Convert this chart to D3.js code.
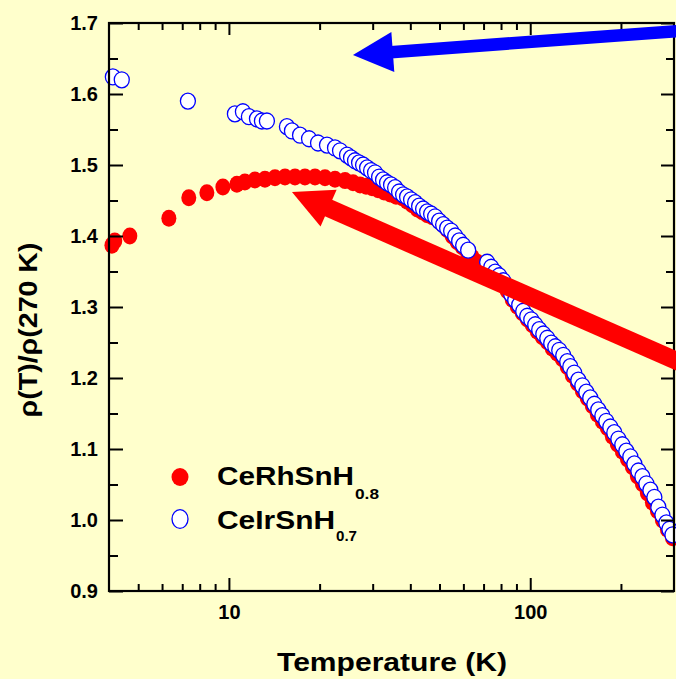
<!DOCTYPE html>
<html>
<head>
<meta charset="utf-8">
<script src="https://cdn.jsdelivr.net/npm/d3@7"></script>
<style>
  body { margin: 0; background: #FFFFCC; }
  svg { display: block; }
  text { font-family: Arial, "Liberation Sans", sans-serif; font-weight: bold; fill: #000; }
</style>
</head>
<body>
<svg id="chart" width="676" height="679"></svg>
<script>
// Normalised resistivity rho(T)/rho(270 K) of the two hydrides
const tempRh = [4.09,4.18,4.69,6.32,7.36,8.45,9.55,10.63,11.30,12.20,13.17,14.22,15.35,16.57,17.88,19.31,20.84,22.50,
  24.29,25.82,27.25,28.52,29.86,31.26,32.73,34.27,35.88,37.56,39.03,40.55,42.14,43.78,45.48,47.26,49.09,51.01,53.00,55.07,
  57.21,59.44,61.76,64.17,66.67,69.27,71.95,74.76,77.68,80.72,83.86,87.14,90.54,94.07,97.72,101.5,105.5,109.6,113.9,118.3,
  122.9,127.7,132.7,137.9,143.3,148.9,154.6,160.7,167.0,173.5,180.2,187.3,194.5,202.1,210.1,218.2,226.7,235.6,244.7,254.3,
  264.2,274.5,285.2,296.4];
const rhoRh = [1.387,1.393,1.400,1.425,1.454,1.461,1.469,1.473,1.476,1.479,1.480,1.482,1.483,1.483,1.483,1.483,1.482,1.480,
  1.478,1.475,1.472,1.470,1.468,1.465,1.462,1.459,1.456,1.454,1.449,1.444,1.438,1.434,1.430,1.427,1.424,1.417,1.409,1.400,
  1.392,1.385,1.378,1.370,1.363,1.358,1.352,1.347,1.341,1.332,1.323,1.311,1.301,1.292,1.283,1.275,1.266,1.258,1.251,1.242,
  1.235,1.227,1.216,1.204,1.193,1.182,1.172,1.161,1.149,1.139,1.130,1.118,1.107,1.097,1.086,1.075,1.062,1.051,1.038,1.025,
  1.013,1.000,0.987,0.975];

const tempIr = [4.12,4.41,7.31,10.47,11.13,11.65,12.39,12.87,13.37,15.58,16.19,17.22,18.45,19.76,21.16,22.50,23.38,24.66,
  25.43,26.22,27.04,27.88,28.75,29.64,30.55,31.51,32.48,33.49,34.53,35.61,36.71,37.86,39.03,40.24,41.49,42.78,44.11,45.48,
  46.90,48.35,49.85,51.40,53.00,54.65,56.35,58.10,59.90,62.23,71.95,74.19,76.49,78.89,81.34,83.86,86.48,89.17,91.94,94.78,
  97.72,100.8,103.9,107.1,110.5,113.9,117.4,121.1,124.8,128.7,132.7,135.8,140.0,144.4,148.9,153.5,158.2,163.2,168.2,173.5,
  178.8,184.4,190.1,196.1,202.1,208.4,214.9,221.6,228.5,235.6,242.9,250.5,258.2,266.2,274.5,283.0,289.6,296.4];
const rhoIr = [1.624,1.620,1.590,1.572,1.575,1.568,1.565,1.562,1.562,1.554,1.548,1.542,1.537,1.531,1.528,1.524,1.520,1.514,
  1.510,1.506,1.503,1.500,1.496,1.492,1.489,1.483,1.479,1.475,1.472,1.468,1.462,1.458,1.455,1.451,1.447,1.442,1.438,1.434,
  1.431,1.427,1.421,1.416,1.411,1.407,1.400,1.393,1.387,1.380,1.363,1.356,1.349,1.344,1.337,1.328,1.318,1.310,1.303,1.294,
  1.287,1.282,1.275,1.268,1.262,1.256,1.249,1.244,1.239,1.232,1.223,1.216,1.207,1.197,1.189,1.180,1.172,1.163,1.155,1.147,
  1.139,1.131,1.123,1.114,1.106,1.097,1.089,1.079,1.069,1.061,1.051,1.042,1.032,1.018,1.007,0.996,0.987,0.979];

const seriesNames = ["CeRhSnH", "CeIrSnH"];
const seriesSubscripts = ["0.8", "0.7"];

const xMajorTicks = [10, 100];
const xMinorTicks = [5, 6, 7, 8, 9, 20, 30, 40, 50, 60, 70, 80, 90, 200];
const yMajorTicks = [0.9, 1.0, 1.1, 1.2, 1.3, 1.4, 1.5, 1.6, 1.7];
const yMinorTicks = [0.95, 1.05, 1.15, 1.25, 1.35, 1.45, 1.55, 1.65];

// annotation arrows: [tail T, tail rho] -> [tip T, tip rho]
const arrowIrTail = [340, 1.690], arrowIrTip = [25.8, 1.655];
const arrowRhTail = [340, 1.2155], arrowRhTip = [16.19, 1.462];

const svg = d3.select("#chart");
const W = 676, H = 679;
const plotLeft = 109, plotRight = 674, plotTop = 23, plotBottom = 591;

svg.append("rect").attr("width", W).attr("height", H).attr("fill", "#FFFFCC");

const x = d3.scaleLog().domain([4, 300]).range([plotLeft, plotRight]);
const y = d3.scaleLinear().domain([0.9, 1.7]).range([plotBottom, plotTop]);

const plot = svg.append("g");

// CeRhSnH0.8 : filled red dots
plot.append("g").selectAll("ellipse")
  .data(d3.zip(tempRh, rhoRh))
  .join("ellipse")
  .attr("cx", d => x(d[0])).attr("cy", d => y(d[1]))
  .attr("rx", 7.5).attr("ry", 8.5)
  .attr("fill", "#ff0000");

// CeIrSnH0.7 : open blue circles
plot.append("g").selectAll("ellipse")
  .data(d3.zip(tempIr, rhoIr))
  .join("ellipse")
  .attr("cx", d => x(d[0])).attr("cy", d => y(d[1]))
  .attr("rx", 7.5).attr("ry", 8)
  .attr("fill", "#ffffff").attr("stroke", "#0000ff").attr("stroke-width", 1.3);

// arrows
function arrow(tail, tip, color, shaft, headLen, headHalf) {
  const x0 = x(tail[0]), y0 = y(tail[1]), x1 = x(tip[0]), y1 = y(tip[1]);
  const len = Math.hypot(x0 - x1, y0 - y1);
  const ux = (x0 - x1) / len, uy = (y0 - y1) / len;
  const bx = x1 + ux * headLen, by = y1 + uy * headLen;
  const px = -uy, py = ux;
  svg.append("line")
    .attr("x1", bx - ux * 2).attr("y1", by - uy * 2).attr("x2", x0).attr("y2", y0)
    .attr("stroke", color).attr("stroke-width", shaft);
  svg.append("path")
    .attr("d", `M${x1},${y1}L${bx + px * headHalf},${by + py * headHalf}L${bx - px * headHalf},${by - py * headHalf}Z`)
    .attr("fill", color);
}

// frame
svg.append("rect")
  .attr("x", plotLeft).attr("y", plotTop).attr("width", plotRight - plotLeft).attr("height", plotBottom - plotTop)
  .attr("fill", "none").attr("stroke", "#000").attr("stroke-width", 2.2);

function styleAxis(g) {
  g.select(".domain").remove();
  g.selectAll("line").attr("stroke", "#000").attr("stroke-width", 2);
  g.selectAll("text").attr("font-size", 20).attr("font-weight", "bold")
    .attr("font-family", "Arial, 'Liberation Sans', sans-serif");
}

// x axes (bottom with labels, top without)
svg.append("g").attr("transform", `translate(0,${plotBottom})`)
  .call(d3.axisBottom(x).tickValues(xMajorTicks).tickSizeInner(-13).tickSizeOuter(0)
    .tickPadding(14).tickFormat(d3.format("d")))
  .call(styleAxis);
svg.append("g").attr("transform", `translate(0,${plotBottom})`)
  .call(d3.axisBottom(x).tickValues(xMinorTicks).tickSizeInner(-7).tickSizeOuter(0).tickFormat(""))
  .call(styleAxis);
svg.append("g").attr("transform", `translate(0,${plotTop})`)
  .call(d3.axisTop(x).tickValues(xMajorTicks).tickSizeInner(-12).tickSizeOuter(0).tickFormat(""))
  .call(styleAxis);
svg.append("g").attr("transform", `translate(0,${plotTop})`)
  .call(d3.axisTop(x).tickValues(xMinorTicks).tickSizeInner(-7).tickSizeOuter(0).tickFormat(""))
  .call(styleAxis);

// y axes (left with labels, right without)
svg.append("g").attr("transform", `translate(${plotLeft},0)`)
  .call(d3.axisLeft(y).tickValues(yMajorTicks).tickSizeInner(-14).tickSizeOuter(0)
    .tickPadding(11).tickFormat(d3.format(".1f")))
  .call(styleAxis);
svg.append("g").attr("transform", `translate(${plotLeft},0)`)
  .call(d3.axisLeft(y).tickValues(yMinorTicks).tickSizeInner(-9).tickSizeOuter(0).tickFormat(""))
  .call(styleAxis);
svg.append("g").attr("transform", `translate(${plotRight},0)`)
  .call(d3.axisRight(y).tickValues(yMajorTicks).tickSizeInner(-13).tickSizeOuter(0).tickFormat(""))
  .call(styleAxis);
svg.append("g").attr("transform", `translate(${plotRight},0)`)
  .call(d3.axisRight(y).tickValues(yMinorTicks).tickSizeInner(-8).tickSizeOuter(0).tickFormat(""))
  .call(styleAxis);

arrow(arrowRhTail, arrowRhTip, "#ff0000", 18, 40, 20);
arrow(arrowIrTail, arrowIrTip, "#0000ff", 12.5, 40, 20);

// axis titles
svg.append("text")
  .attr("x", 392).attr("y", 671).attr("text-anchor", "middle")
  .attr("font-size", 25).attr("textLength", 230).attr("lengthAdjust", "spacingAndGlyphs")
  .text("Temperature (K)");
svg.append("text")
  .attr("transform", "translate(37,330) rotate(-90)").attr("text-anchor", "middle")
  .attr("font-size", 25).attr("textLength", 175).attr("lengthAdjust", "spacingAndGlyphs")
  .text("ρ(T)/ρ(270 K)");

// legend
const legend = svg.append("g");
const rowsY = [477, 519];
const nameWidths = [137, 118];
const subWidths = [24, 21];
legend.append("ellipse").attr("cx", 180).attr("cy", rowsY[0]).attr("rx", 8.5).attr("ry", 9)
  .attr("fill", "#ff0000");
legend.append("ellipse").attr("cx", 180).attr("cy", rowsY[1]).attr("rx", 8).attr("ry", 9.3)
  .attr("fill", "#ffffff").attr("stroke", "#0000ff").attr("stroke-width", 1.3);
seriesNames.forEach((name, i) => {
  legend.append("text")
    .attr("x", 217).attr("y", rowsY[i] + 8 + i * 2)
    .attr("font-size", 25).attr("textLength", nameWidths[i]).attr("lengthAdjust", "spacingAndGlyphs")
    .text(name);
  legend.append("text")
    .attr("x", 217 + nameWidths[i] + 1).attr("y", rowsY[i] + 22)
    .attr("font-size", 15).attr("textLength", subWidths[i]).attr("lengthAdjust", "spacingAndGlyphs")
    .text(seriesSubscripts[i]);
});
</script>
</body>
</html>
